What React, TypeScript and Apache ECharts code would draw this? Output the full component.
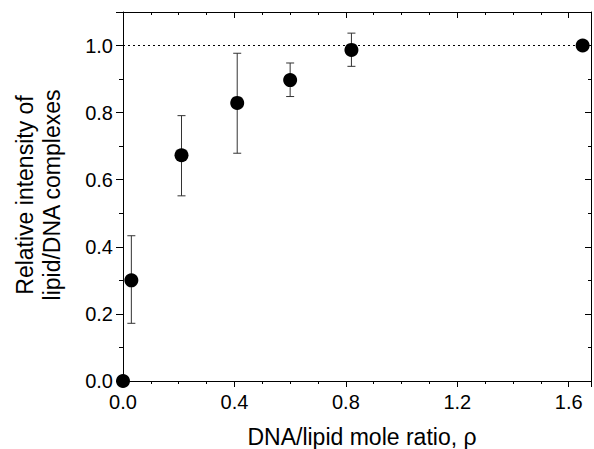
import React, { useEffect, useRef } from "react";
import * as echarts from "echarts";

const xValues = [0, 0.03, 0.21, 0.41, 0.6, 0.82, 1.65];
const yValues = [0, 0.30, 0.673, 0.829, 0.897, 0.987, 1.0];
const errLow = [null, 0.172, 0.552, 0.679, 0.848, 0.938, null];
const errHigh = [null, 0.433, 0.791, 0.977, 0.948, 1.037, null];
const xTitle = "DNA/lipid mole ratio, ρ";
const yTitleLines = ["Relative intensity of", "lipid/DNA complexes"];
const refLevel = 1.0;

const FONT = "'Liberation Sans', Arial, sans-serif";

export default function App() {
  const ref = useRef<HTMLDivElement>(null);
  useEffect(() => {
    if (!ref.current) return;
    const chart = echarts.init(ref.current, null, { renderer: "svg" });
    const points = xValues.map((x, i) => [x, yValues[i]]);
    const bars = xValues
      .map((x, i) => [x, errLow[i], errHigh[i]])
      .filter((d) => d[1] !== null);
    const axisCommon = {
      axisLine: { show: true, onZero: false, lineStyle: { color: "#000", width: 1 } },
      splitLine: { show: false },
    };
    const titleStyle = {
      fontSize: 23,
      fontFamily: FONT,
      fill: "#000",
      align: "center",
      verticalAlign: "middle",
    };
    chart.setOption({
      animation: false,
      grid: { left: 123, top: 12, right: 0, bottom: 68 },
      xAxis: [
        {
          type: "value",
          min: 0,
          max: 1.68,
          interval: 0.4,
          ...axisCommon,
          axisTick: { show: true, inside: false, length: 6, lineStyle: { color: "#000" } },
          minorTick: { show: true, splitNumber: 4, length: 3, lineStyle: { color: "#000" } },
          axisLabel: {
            color: "#000",
            fontSize: 20,
            fontFamily: FONT,
            margin: 11,
            formatter: (v: number) => (v > 1.65 ? "" : v.toFixed(1)),
          },
        },
        {
          type: "value",
          position: "top",
          min: 0,
          max: 1.68,
          interval: 0.4,
          ...axisCommon,
          axisTick: { show: true, inside: true, length: 6, lineStyle: { color: "#000" } },
          minorTick: { show: true, splitNumber: 4, length: 3, lineStyle: { color: "#000" } },
          axisLabel: { show: false },
        },
      ],
      yAxis: [
        {
          type: "value",
          min: 0,
          max: 1.1,
          interval: 0.2,
          ...axisCommon,
          axisTick: { show: true, inside: false, length: 7, lineStyle: { color: "#000" } },
          minorTick: { show: true, splitNumber: 2, length: 4, lineStyle: { color: "#000" } },
          axisLabel: {
            color: "#000",
            fontSize: 20,
            fontFamily: FONT,
            margin: 10,
            formatter: (v: number) => (v > 1.05 ? "" : v.toFixed(1)),
          },
        },
        {
          type: "value",
          position: "right",
          min: 0,
          max: 1.1,
          interval: 0.2,
          ...axisCommon,
          axisTick: { show: true, inside: true, length: 6, lineStyle: { color: "#000" } },
          minorTick: { show: true, splitNumber: 2, length: 3, lineStyle: { color: "#000" } },
          axisLabel: { show: false },
        },
      ],
      graphic: [
        {
          type: "text",
          x: 362,
          y: 437,
          style: { text: xTitle, ...titleStyle },
        },
        {
          type: "text",
          x: 25,
          y: 195,
          rotation: Math.PI / 2,
          style: { text: yTitleLines[0], ...titleStyle },
        },
        {
          type: "text",
          x: 52,
          y: 195,
          rotation: Math.PI / 2,
          style: { text: yTitleLines[1], ...titleStyle },
        },
      ],
      series: [
        {
          type: "custom",
          xAxisIndex: 0,
          yAxisIndex: 0,
          data: bars,
          clip: false,
          renderItem: (params: any, api: any) => {
            const x = api.value(0);
            const lo = api.coord([x, api.value(1)]);
            const hi = api.coord([x, api.value(2)]);
            const cap = 4;
            const style = { stroke: "#333", lineWidth: 1 };
            return {
              type: "group",
              children: [
                { type: "line", shape: { x1: lo[0], y1: lo[1], x2: hi[0], y2: hi[1] }, style },
                { type: "line", shape: { x1: lo[0] - cap, y1: lo[1], x2: lo[0] + cap, y2: lo[1] }, style },
                { type: "line", shape: { x1: hi[0] - cap, y1: hi[1], x2: hi[0] + cap, y2: hi[1] }, style },
              ],
            };
          },
          z: 2,
        },
        {
          type: "scatter",
          xAxisIndex: 0,
          yAxisIndex: 0,
          data: points,
          symbol: "circle",
          symbolSize: 14,
          clip: false,
          itemStyle: { color: "#000", opacity: 1 },
          z: 3,
          markLine: {
            silent: true,
            symbol: "none",
            label: { show: false },
            lineStyle: { color: "#000", type: [2, 3], width: 1 },
            data: [{ yAxis: refLevel }],
          },
        },
      ],
    });
    return () => chart.dispose();
  }, []);
  return <div ref={ref} style={{ width: 594, height: 449, position: "absolute", left: 0, top: 0 }} />;
}
